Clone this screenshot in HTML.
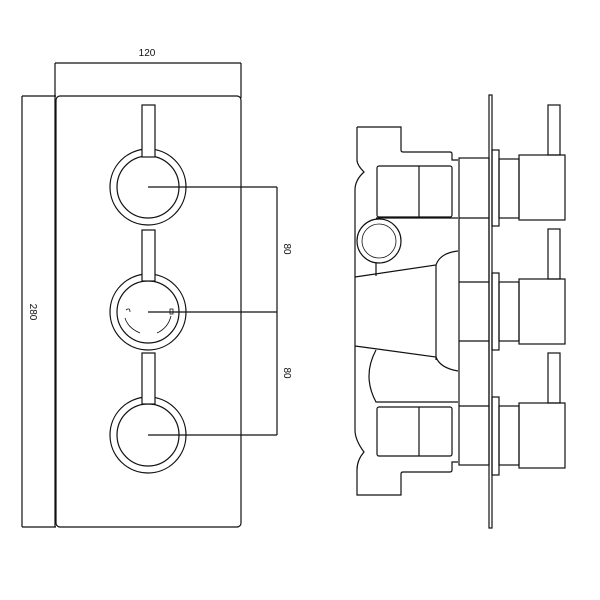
<!DOCTYPE html>
<html><head><style>body{margin:0;background:#fff}svg{display:block}</style></head><body>
<svg width="600" height="600" viewBox="0 0 600 600" xmlns="http://www.w3.org/2000/svg" fill="none" stroke="#111" stroke-width="1.2">
<rect width="600" height="600" fill="#fff" stroke="none"/>
<line x1="55" y1="63" x2="241" y2="63"/>
<line x1="55" y1="63" x2="55" y2="527"/>
<line x1="241" y1="63" x2="241" y2="98"/>
<line x1="22" y1="96" x2="56" y2="96"/>
<line x1="22" y1="96" x2="22" y2="527"/>
<line x1="22" y1="527" x2="56" y2="527"/>
<rect x="56" y="96" width="185" height="431" rx="4"/>
<text x="147" y="56" font-family="Liberation Sans, sans-serif" font-size="10" fill="#111" stroke="none" text-anchor="middle">120</text>
<text transform="translate(30,312) rotate(90)" font-family="Liberation Sans, sans-serif" font-size="10" fill="#111" stroke="none" text-anchor="middle">280</text>
<text transform="translate(284,249) rotate(90)" font-family="Liberation Sans, sans-serif" font-size="10" fill="#111" stroke="none" text-anchor="middle">80</text>
<text transform="translate(284,373) rotate(90)" font-family="Liberation Sans, sans-serif" font-size="10" fill="#111" stroke="none" text-anchor="middle">80</text>
<g>
<circle cx="148" cy="187" r="38"/><circle cx="148" cy="187" r="31"/>
<circle cx="148" cy="312" r="38"/><circle cx="148" cy="312" r="31"/>
<circle cx="148" cy="435" r="38"/><circle cx="148" cy="435" r="31"/>
<rect x="142" y="105" width="13" height="52" fill="#fff"/>
<rect x="142" y="230" width="13" height="51" fill="#fff"/>
<rect x="142" y="353" width="13" height="51" fill="#fff"/>
</g>
<path d="M148 187H277M148 312H277M148 435H277M277 187V435"/>
<path d="M125 318 Q128 328 140 333 M157 333 Q168 328 171 316" stroke-width="0.8"/>
<path d="M126 310 q4 -3 4 2" stroke-width="0.8"/>
<rect x="170" y="309" width="3" height="5" stroke-width="0.8"/>
<rect x="489" y="95" width="3" height="433"/>
<path d="M357 127H401V150Q401 152 403 152H450Q452 152 452 154V160H458"/>
<path d="M357 127V160Q357 165 364 172Q355 180 355 190V430Q355 440 364 452Q357 460 357 470V495H401V474Q401 472 403 472H450Q452 472 452 470V462H458"/>
<rect x="377" y="166" width="75" height="51" rx="2"/>
<line x1="419" y1="166" x2="419" y2="217"/>
<rect x="377" y="407" width="75" height="49" rx="2"/>
<line x1="419" y1="407" x2="419" y2="456"/>
<line x1="376" y1="218" x2="458" y2="218"/>
<circle cx="379" cy="241" r="22"/><circle cx="379" cy="241" r="17" stroke-width="0.8"/>
<line x1="376" y1="263" x2="376" y2="276"/>
<path d="M355 277L436 265Q440 253 458 251"/>
<line x1="436" y1="265" x2="436" y2="360"/>
<path d="M355 346L436 357Q440 368 458 371"/>
<path d="M376 350Q362 376 376 402H458"/>
<rect x="459" y="158" width="30" height="307"/>
<path d="M459 218H489M459 282H489M459 341H489M459 406H489"/>
<rect x="492" y="150" width="7" height="76"/>
<rect x="492" y="273" width="7" height="77"/>
<rect x="492" y="397" width="7" height="78"/>
<rect x="499" y="159" width="20" height="59"/>
<rect x="499" y="282" width="20" height="59"/>
<rect x="499" y="406" width="20" height="59"/>
<rect x="519" y="155" width="46" height="65"/>
<rect x="519" y="279" width="46" height="65"/>
<rect x="519" y="403" width="46" height="65"/>
<rect x="548" y="105" width="12" height="50"/>
<rect x="548" y="229" width="12" height="50"/>
<rect x="548" y="353" width="12" height="50"/>
</svg>
</body></html>
